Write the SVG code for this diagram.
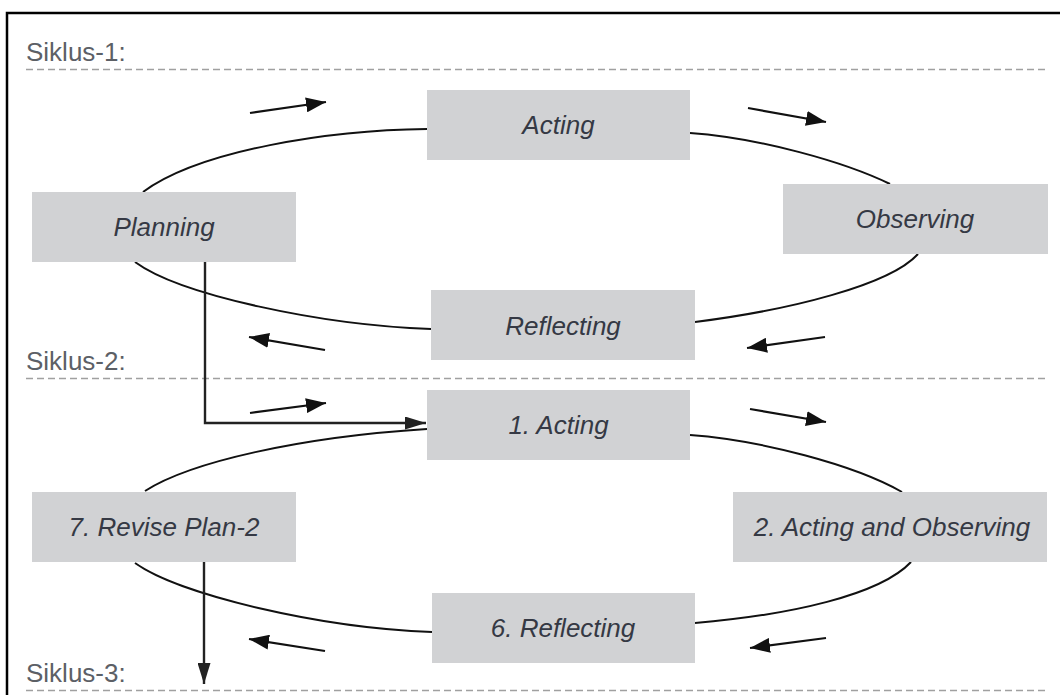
<svg xmlns="http://www.w3.org/2000/svg" width="1060" height="695" viewBox="0 0 1060 695">
<style>
.frame{fill:none;stroke:#000;stroke-width:2.5}
.sep{stroke:#a0a0a0;stroke-width:1.6;stroke-dasharray:7 4;fill:none}
.lbl{font-family:"Liberation Sans",Arial,sans-serif;font-size:26px;fill:#5c6066}
.box{fill:#d1d2d4}
.txt{font-family:"Liberation Sans",Arial,sans-serif;font-size:26px;font-style:italic;fill:#353944;text-anchor:middle}
.curve{fill:none;stroke:#111;stroke-width:2}
.arr{fill:none;stroke:#111;stroke-width:2.2;marker-end:url(#ah)}
.link{fill:none;stroke:#222;stroke-width:2.4;marker-end:url(#ah2)}
</style>
<defs>
<marker id="ah" viewBox="0 0 20 15" refX="20" refY="7.5" markerWidth="20" markerHeight="15" orient="auto" markerUnits="userSpaceOnUse">
<path d="M0,0 L20,7.5 L0,15 z" fill="#111"/>
</marker>
<marker id="ah2" viewBox="0 0 21 13" refX="21" refY="6.5" markerWidth="21" markerHeight="13" orient="auto" markerUnits="userSpaceOnUse">
<path d="M0,0 L21,6.5 L0,13 z" fill="#222"/>
</marker>
</defs>
<rect x="0" y="0" width="1060" height="695" fill="#fff"/>
<rect class="frame" x="7" y="13" width="1100" height="800"/>

<g id="siklus">
<text class="lbl" x="26" y="61">Siklus-1:</text>
<line class="sep" x1="26" y1="69.5" x2="1048" y2="69.5"/>
<text class="lbl" x="26" y="370">Siklus-2:</text>
<line class="sep" x1="26" y1="378.5" x2="1048" y2="378.5"/>
<text class="lbl" x="26" y="682">Siklus-3:</text>
<line class="sep" x1="26" y1="690.5" x2="1048" y2="690.5"/>
</g>

<g id="connectors">
<!-- cycle 1 -->
<path class="curve" d="M143,192 C200,150 330,130 427,129"/>
<path class="curve" d="M690,133 C760,138 845,162 890,184"/>
<path class="curve" d="M918,254 C890,285 790,310 695,322"/>
<path class="curve" d="M135,262 C180,295 320,325 431,329"/>
<!-- cycle 2 -->
<path class="curve" d="M145,491 C190,462 300,437 427,429"/>
<path class="curve" d="M690,435 C760,440 855,465 902,492"/>
<path class="curve" d="M911,562 C880,595 790,615 695,623"/>
<path class="curve" d="M135,563 C180,595 320,628 432,632"/>
<!-- direction arrows cycle 1 -->
<line class="arr" x1="250" y1="113" x2="326" y2="102"/>
<line class="arr" x1="748" y1="108" x2="826" y2="122"/>
<line class="arr" x1="825" y1="337" x2="747" y2="348"/>
<line class="arr" x1="325" y1="350" x2="249" y2="337"/>
<!-- direction arrows cycle 2 -->
<line class="arr" x1="250" y1="413" x2="326" y2="403"/>
<line class="arr" x1="750" y1="409" x2="826" y2="422"/>
<line class="arr" x1="826" y1="638" x2="750" y2="648"/>
<line class="arr" x1="325" y1="651" x2="249" y2="639"/>
<!-- cycle links -->
<path class="link" d="M205,262 L205,423 L426,423"/>
<path class="link" d="M204,562 L204,684"/>
</g>

<g id="node-acting">
<rect class="box" x="427" y="90" width="263" height="70"/>
<text class="txt" x="558.5" y="134">Acting</text>
</g>
<g id="node-planning">
<rect class="box" x="32" y="192" width="264" height="70"/>
<text class="txt" x="164" y="236">Planning</text>
</g>
<g id="node-observing">
<rect class="box" x="783" y="184" width="265" height="70"/>
<text class="txt" x="915" y="228">Observing</text>
</g>
<g id="node-reflecting">
<rect class="box" x="431" y="290" width="264" height="70"/>
<text class="txt" x="563" y="335">Reflecting</text>
</g>
<g id="node-acting-1">
<rect class="box" x="427" y="390" width="263" height="70"/>
<text class="txt" x="558.5" y="434">1. Acting</text>
</g>
<g id="node-revise-plan-2">
<rect class="box" x="32" y="492" width="264" height="70"/>
<text class="txt" x="164" y="536">7. Revise Plan-2</text>
</g>
<g id="node-acting-observing-2">
<rect class="box" x="733" y="492" width="314" height="70"/>
<text class="txt" x="892" y="536">2. Acting and Observing</text>
</g>
<g id="node-reflecting-6">
<rect class="box" x="432" y="593" width="263" height="70"/>
<text class="txt" x="563" y="637">6. Reflecting</text>
</g>
</svg>
